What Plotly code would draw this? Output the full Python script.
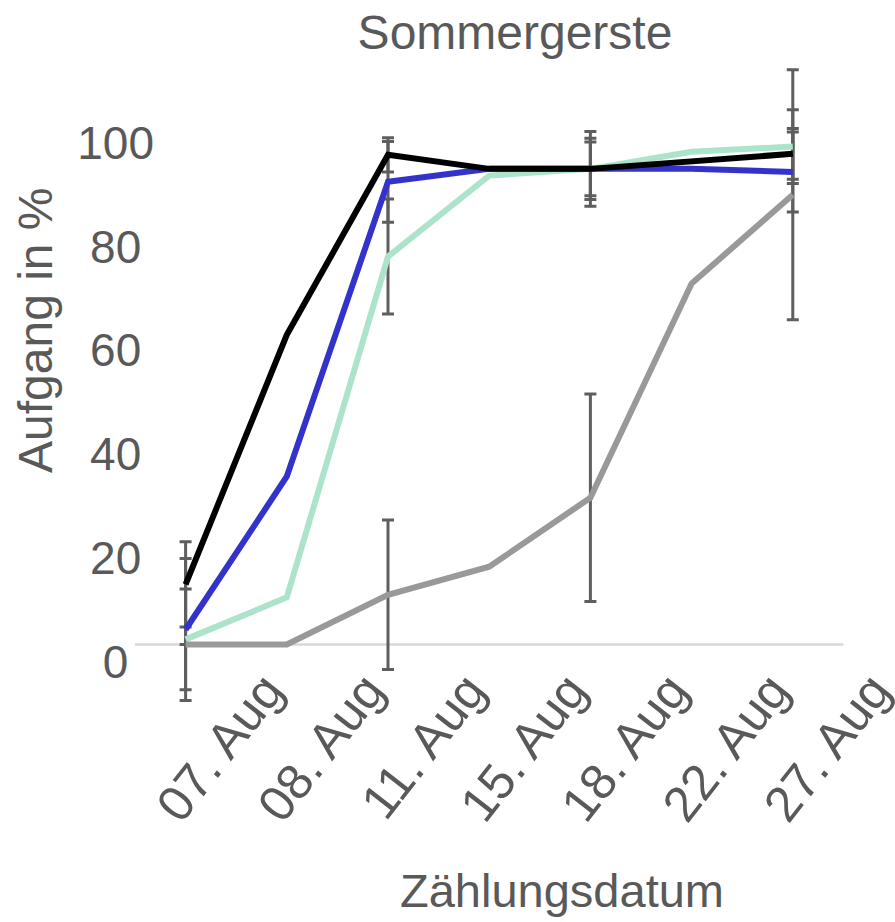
import numpy as np
import plotly.graph_objects as go

# ---- data ----
categories = ["07. Aug", "08. Aug", "11. Aug", "15. Aug", "18. Aug", "22. Aug", "27. Aug"]
y_ticks = [0, 20, 40, 60, 80, 100]

black_vals = [11.6, 59.7, 94.4, 91.7, 91.7, 93.2, 94.6]
black_err = [8.2, None, 3.3, None, 5.2, None, 4.9]
blue_vals = [2.9, 32.4, 89.2, 91.7, 91.7, 91.7, 91.1]
blue_err = [13.7, None, 7.8, None, 5.9, None, 7.7]
green_vals = [1.0, 9.1, 74.8, 90.4, 91.7, 95.0, 96.0]
green_err = [9.7, None, 11.1, None, 7.2, None, 7.1]
gray_vals = [0.0, 0.0, 9.6, 15.0, 28.3, 69.6, 86.7]
gray_err = [0.0, None, 14.4, None, 20.0, None, 24.1]

TEXT = "#595959"
ERR = "#5e5e5e"
FONT = "Liberation Sans, Arial, sans-serif"

series = [
    ("green", green_vals, green_err, "#ace3cb"),
    ("blue", blue_vals, blue_err, "#3333cc"),
    ("gray", gray_vals, gray_err, "#999999"),
    ("black", black_vals, black_err, "#000000"),
]

xpos = list(range(len(categories)))

fig = go.Figure()

# error bars (beneath lines)
for name, vals, errs, col in series:
    idx = [i for i, e in enumerate(errs) if e is not None]
    fig.add_trace(go.Scatter(
        x=[xpos[i] for i in idx], y=[vals[i] for i in idx],
        mode="markers", marker=dict(size=1, opacity=0),
        error_y=dict(type="data", array=[errs[i] for i in idx], color=ERR,
                     thickness=3, width=6, symmetric=True),
        showlegend=False, hoverinfo="skip"))

for name, vals, errs, col in series:
    fig.add_trace(go.Scatter(
        x=xpos, y=vals, mode="lines", name=name,
        line=dict(color=col, width=6), showlegend=False))

# zero line spanning the category band
fig.add_shape(type="line", xref="x", yref="y", x0=xpos[0] - 0.5, x1=xpos[-1] + 0.5,
              y0=0, y1=0, line=dict(color="#d9d9d9", width=2.5), layer="below")

def pad(v):
    s = str(v)
    if len(s) == 1:
        return s + "\u2007"
    if len(s) == 2:
        return s + "\u2008"
    return s

fig.update_layout(
    width=895, height=922,
    margin=dict(l=135, r=0, t=48, b=210, pad=0),
    plot_bgcolor="white", paper_bgcolor="white",
    font=dict(family=FONT, color=TEXT, size=46),
    title=dict(text="Sommergerste", x=0.5, xref="paper", xanchor="center",
               y=1 - 32 / 922, yref="container", yanchor="middle",
               font=dict(size=48, color=TEXT)),
    xaxis=dict(range=[-0.5, len(categories) + 0.01], tickmode="array",
               tickvals=[i + 1 for i in xpos], ticktext=categories,
               tickangle=-52, showgrid=False, zeroline=False, showline=False,
               ticks="", tickfont=dict(size=50, color=TEXT),
               ticklabelstandoff=-62, ticklabelshift=-21,
               ticklabeloverflow="allow", automargin=False),
    yaxis=dict(range=[-13, 115], tickmode="array", tickvals=y_ticks,
               ticktext=[pad(v) for v in y_ticks],
               showgrid=False, zeroline=False, showline=False, ticks="",
               tickfont=dict(size=46, color=TEXT), ticklabelshift=17,
               ticklabelstandoff=-20, automargin=False),
    annotations=[
        dict(text="Aufgang in %", xref="paper", yref="paper",
             x=-(135 - 36) / 760, y=(712 - 330) / 664, xanchor="center", yanchor="middle",
             textangle=-90, showarrow=False, font=dict(size=48, color=TEXT)),
        dict(text="Zählungsdatum", xref="paper", yref="paper",
             x=(562 - 135) / 760, y=(712 - 890) / 664, xanchor="center", yanchor="middle",
             showarrow=False, font=dict(size=47, color=TEXT)),
    ],
)

fig.write_html("out.html")
